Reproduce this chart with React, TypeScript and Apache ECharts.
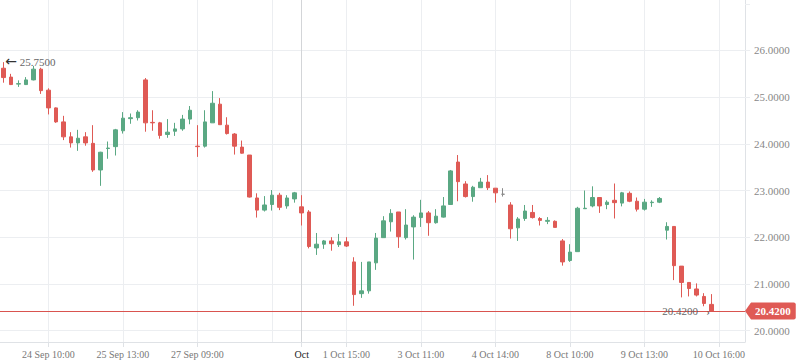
import React, { useEffect, useRef } from 'react';
import * as echarts from 'echarts';

// OHLC values (one candle per slot)
const opens = [
  25.62, 25.43, 25.28, 25.27, 25.37, 25.60, 25.15, 24.77, 24.47, 24.15,
  24.02, 24.15, 24.01, 23.44, 23.90, 23.94, 24.28, 24.54, 24.56, 25.37,
  24.46, 24.45, 24.20, 24.27, 24.32, 24.53, 23.95, 23.95, 24.45, 24.85,
  24.40, 24.21, 23.93, 23.76, 22.84, 22.58, 22.70, 22.90, 22.67, 22.82,
  22.65, 22.54, 21.77, 21.85, 21.92, 21.84, 21.90, 21.47, 20.79, 20.85,
  21.45, 21.99, 22.33, 22.54, 21.99, 22.22, 22.42, 22.52, 22.31, 22.43,
  22.70, 23.61, 23.14, 22.87, 23.06, 23.18, 23.05, 22.92, 22.69, 22.20,
  22.40, 22.53, 22.40, 22.34, 22.34, 21.92, 21.50, 21.69, 22.61, 22.67,
  22.85, 22.70, 22.79, 22.73, 22.94, 22.77, 22.60, 22.74, 22.75, 22.15,
  22.23, 21.38, 21.03, 20.89, 20.73, 20.56,
];
const closes = [
  25.42, 25.27, 25.29, 25.37, 25.60, 25.14, 24.77, 24.47, 24.15, 24.02,
  24.12, 24.02, 23.44, 23.82, 23.91, 24.30, 24.55, 24.56, 24.68, 24.45,
  24.45, 24.18, 24.25, 24.32, 24.53, 24.72, 23.94, 24.47, 24.87, 24.41,
  24.22, 23.95, 23.80, 22.86, 22.58, 22.69, 22.90, 22.64, 22.84, 22.95,
  22.52, 21.80, 21.85, 21.92, 21.86, 21.90, 21.81, 20.77, 20.85, 21.47,
  21.98, 22.35, 22.51, 22.01, 22.26, 22.43, 22.52, 22.31, 22.45, 22.67,
  23.42, 23.19, 22.87, 23.07, 23.18, 23.06, 22.95, 22.92, 22.18, 22.39,
  22.56, 22.42, 22.36, 22.36, 22.21, 21.47, 21.68, 22.62, 22.62, 22.85,
  22.67, 22.75, 22.74, 22.95, 22.77, 22.60, 22.75, 22.75, 22.83, 22.23,
  21.39, 21.03, 20.90, 20.76, 20.58, 20.42,
];
const lows = [
  25.31, 25.26, 25.22, 25.26, 25.36, 25.07, 24.63, 24.45, 24.08, 23.92,
  23.85, 23.96, 23.40, 23.10, 23.68, 23.75, 24.22, 24.43, 24.50, 24.26,
  24.28, 24.11, 24.13, 24.17, 24.28, 24.42, 23.72, 23.92, 24.45, 24.41,
  24.20, 23.77, 23.79, 22.85, 22.42, 22.55, 22.57, 22.58, 22.61, 22.74,
  22.25, 21.76, 21.62, 21.75, 21.71, 21.79, 21.79, 20.53, 20.70, 20.79,
  21.30, 21.99, 22.12, 21.77, 21.95, 21.52, 22.22, 22.03, 22.29, 22.42,
  22.70, 22.77, 22.85, 22.76, 23.06, 23.01, 22.74, 22.87, 21.97, 21.92,
  22.35, 22.40, 22.25, 22.28, 22.21, 21.39, 21.47, 21.69, 22.61, 22.64,
  22.52, 22.60, 22.40, 22.66, 22.75, 22.55, 22.57, 22.65, 22.73, 21.95,
  21.08, 20.71, 20.73, 20.73, 20.52, 20.42,
];
const highs = [
  25.75, 25.50, 25.36, 25.43, 25.67, 25.63, 25.19, 24.78, 24.60, 24.25,
  24.30, 24.25, 24.40, 23.83, 24.05, 24.32, 24.68, 24.65, 24.72, 25.41,
  24.72, 24.47, 24.53, 24.45, 24.62, 24.81, 24.40, 24.72, 25.13, 24.98,
  24.57, 24.23, 24.07, 23.76, 22.94, 22.88, 23.01, 22.95, 22.90, 22.97,
  22.90, 22.58, 22.09, 21.94, 22.00, 22.07, 22.00, 21.57, 21.47, 21.47,
  22.09, 22.45, 22.60, 22.54, 22.60, 22.47, 22.80, 22.56, 22.60, 22.86,
  23.44, 23.76, 23.20, 23.10, 23.27, 23.33, 23.05, 23.05, 22.75, 22.43,
  22.69, 22.69, 22.43, 22.43, 22.36, 21.96, 21.85, 22.65, 23.00, 23.09,
  22.85, 22.79, 23.15, 22.97, 22.98, 22.85, 22.82, 22.79, 22.86, 22.32,
  22.23, 21.38, 21.03, 21.01, 20.80, 20.78,
];

// category slots (the last ones are empty space on the right of the chart)
const slotCount = 100;
const categories = Array.from({ length: slotCount }, (_, i) => `slot ${i}`);

// x-axis tick slots and their labels ('' = grid line without label)
const tickSlots = [6, 16, 26, 36, 40, 46, 56, 66, 76, 86, 96];
const tickTexts = [
  '24 Sep 10:00', '25 Sep 13:00', '27 Sep 09:00', '', 'Oct', '1 Oct 15:00',
  '3 Oct 11:00', '4 Oct 14:00', '8 Oct 10:00', '9 Oct 13:00', '10 Oct 16:00',
];
const monthSlot = 40;

// y-axis
const yTicks = [20, 21, 22, 23, 24, 25, 26];
const yMin = 19.754;
const yMax = 27.082;

const UP = '#5aa883';
const DOWN = '#df5a55';
const GRID = '#eceef1';
const AXIS = '#dfe2e6';
const FONT = "'Liberation Serif', 'Times New Roman', serif";

const tipSvg =
  "data:image/svg+xml;utf8," +
  encodeURIComponent(
    `<svg xmlns='http://www.w3.org/2000/svg' width='6' height='17'><polygon points='0,8.5 6,0 6,17' fill='${DOWN}'/></svg>`
  );

export default function App() {
  const ref = useRef<HTMLDivElement>(null);

  useEffect(() => {
    if (!ref.current) return;
    const chart = echarts.init(ref.current, null, { renderer: 'svg' });
    const ohlc = opens.map((o, i) => [o, closes[i], lows[i], highs[i]]);
    const last = closes[closes.length - 1];
    const labelFor = (i: number) => {
      const k = tickSlots.indexOf(i);
      return k >= 0 ? tickTexts[k] : '';
    };

    chart.setOption({
      animation: false,
      textStyle: { fontFamily: FONT },
      grid: { left: 0, right: 53, top: 0, bottom: 21, containLabel: false, outerBoundsMode: 'none' },
      xAxis: {
        type: 'category',
        data: categories,
        boundaryGap: true,
        axisLine: { show: true, lineStyle: { color: AXIS, width: 1 } },
        axisTick: {
          show: true,
          alignWithLabel: true,
          length: 5,
          interval: (i: number) => labelFor(i) !== '',
          lineStyle: { color: AXIS },
        },
        axisLabel: {
          interval: (i: number) => labelFor(i) !== '',
          formatter: (_v: string, i: number) => {
            const t = labelFor(i);
            return t === 'Oct' ? '{m|Oct}' : t;
          },
          color: '#777',
          fontSize: 10,
          fontFamily: FONT,
          margin: 7,
          rich: { m: { color: '#222', fontSize: 10, fontFamily: FONT } },
        },
        splitLine: { show: false },
      },
      yAxis: {
        type: 'value',
        position: 'right',
        scale: true,
        min: yMin,
        max: yMax,
        minInterval: 1,
        maxInterval: 1,
        axisLine: { show: true, lineStyle: { color: AXIS, width: 1 } },
        axisTick: { show: true, length: 5, lineStyle: { color: GRID } },
        splitLine: { show: false },
        axisLabel: {
          color: '#888',
          fontSize: 11,
          fontFamily: FONT,
          margin: 9,
          showMinLabel: false,
          showMaxLabel: false,
          formatter: (v: number) =>
            yTicks.some((t) => Math.abs(t - v) < 1e-6) ? v.toFixed(4) : '',
        },
      },
      series: [
        {
          type: 'candlestick',
          data: ohlc,
          barWidth: 4,
          itemStyle: {
            color: UP,
            color0: DOWN,
            borderColor: UP,
            borderColor0: DOWN,
            borderColorDoji: '#8a8a8a',
            borderWidth: 1,
          },
          markLine: {
            silent: true,
            symbol: 'none',
            z: 1,
            animation: false,
            label: { show: false },
            lineStyle: { color: GRID, width: 1, type: 'solid' },
            emphasis: { disabled: true },
            data: [
              ...yTicks.map((v) => ({ yAxis: v })),
              ...tickSlots.map((i) => ({
                xAxis: i,
                lineStyle: { color: i === monthSlot ? '#d3d5d8' : GRID, width: 1, type: 'solid' },
              })),
              {
                yAxis: last,
                lineStyle: { color: '#d9534f', width: 1, type: 'solid' },
                label: {
                  show: true,
                  position: 'end',
                  distance: 0,
                  formatter: () => `{tip| }{val|${last.toFixed(4)}}`,
                  rich: {
                    tip: {
                      width: 6,
                      height: 17,
                      backgroundColor: { image: tipSvg },
                    },
                    val: {
                      backgroundColor: DOWN,
                      color: '#fff',
                      fontWeight: 'bold',
                      fontSize: 11,
                      fontFamily: FONT,
                      height: 17,
                      lineHeight: 17,
                      padding: [0, 5, 0, 4],
                      borderRadius: [0, 2, 2, 0],
                    },
                  },
                },
              },
            ],
          },
          markPoint: {
            silent: true,
            symbol: 'rect',
            symbolSize: 1,
            z: 6,
            itemStyle: { color: 'rgba(0,0,0,0)' },
            label: {
              show: true,
              fontFamily: FONT,
              fontSize: 11,
              color: '#555',
              rich: {
                a: { color: '#333', fontSize: 14, fontFamily: "'DejaVu Sans', sans-serif", padding: [0, 0, 2, 0] },
                b: { color: '#666', fontSize: 11, fontFamily: FONT },
                c: { color: '#555', fontSize: 11, fontFamily: FONT },
              },
            },
            data: [
              {
                type: 'max',
                valueDim: 'highest',
                label: {
                  position: 'right',
                  distance: 1,
                  formatter: (p: any) => `{a|←} {b|${Number(p.value).toFixed(4)}}`,
                },
              },
              {
                type: 'min',
                valueDim: 'lowest',
                label: {
                  position: 'left',
                  distance: 1,
                  formatter: (p: any) => `{b|${Number(p.value).toFixed(4)}}   {c|›}`,
                },
              },
            ],
          },
        },
      ],
    });

    return () => chart.dispose();
  }, []);

  return (
    <div
      ref={ref}
      style={{ position: 'fixed', left: 0, top: 0, width: 798, height: 363, background: '#fff' }}
    />
  );
}
